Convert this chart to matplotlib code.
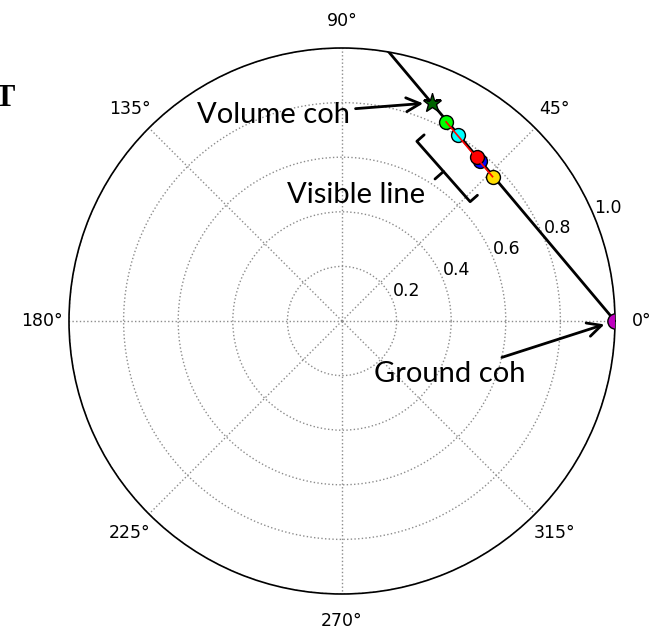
import matplotlib
matplotlib.use("Agg")
import matplotlib.pyplot as plt
import numpy as np

# coherence points (radius, angle in degrees)
names = ["volume", "green", "cyan", "blue", "red", "yellow", "ground"]
r_vals = [0.864, 0.823, 0.804, 0.775, 0.778, 0.764, 1.0]
theta_deg = [67.7, 62.4, 58.0, 49.3, 50.7, 43.8, 0.0]
colors = ["#006400", "#00ff00", "#00ffff", "#0000ff", "#ff0000", "#ffdd00", "#bf00bf"]
markers = ["*", "o", "o", "o", "o", "o", "o"]
msizes = [14, 10, 10, 10, 10, 10, 11]

theta = np.radians(theta_deg)
ground = r_vals[6] * np.exp(1j * theta[6])
volume = r_vals[0] * np.exp(1j * theta[0])

# line through ground and volume coherence, up to the unit circle
d = volume - ground
t = -2 * (ground.real * d.real + ground.imag * d.imag) / abs(d) ** 2
end = ground + t * d

fig = plt.figure(figsize=(6.52, 6.30), dpi=100)
ax = fig.add_axes([69 / 652, 36 / 630, 546 / 652, 546 / 630], projection="polar")

ax.plot([np.angle(ground), np.angle(end)], [abs(ground), abs(end)], "k-", lw=2, zorder=3)
for i in range(len(names)):
    ax.plot(theta[i], r_vals[i], marker=markers[i], color=colors[i], ms=msizes[i],
            mec="k", mew=1, ls="none", zorder=5)
ax.plot([theta[1], theta[5]], [r_vals[1], r_vals[5]], "r-", lw=1.2, zorder=6)

ax.set_ylim(0, 1.0)
ax.set_yticks([0.2, 0.4, 0.6, 0.8, 1.0])
ax.set_yticklabels(["0.2", "0.4", "0.6", "0.8", "1.0"])
ax.set_rlabel_position(22.5)
ax.set_thetagrids(np.arange(0, 360, 45))
ax.grid(True, color="0.55", ls=":", lw=1.0)
ax.tick_params(labelsize=12.5)
ax.tick_params(axis="x", pad=9)
ax.spines["polar"].set_linewidth(1.2)

lab = dict(fontsize=21, family="Lato", textcoords="figure pixels")
ax.annotate("Volume coh", xy=(theta[0], r_vals[0]), xytext=(350, 515), ha="right", va="center",
            arrowprops=dict(arrowstyle="->", lw=2, color="k", shrinkA=2, shrinkB=6,
                            mutation_scale=25), **lab)
ax.annotate("Ground coh", xy=(theta[6], r_vals[6]), xytext=(526, 256), ha="right", va="center",
            arrowprops=dict(arrowstyle="->", lw=2, color="k", shrinkA=2, shrinkB=8,
                            mutation_scale=25), **lab)
fig.text(356 / 652, 435 / 630, "Visible line", fontsize=21, family="Lato", ha="center", va="center")
ax.annotate("", xy=(443.5, 630 - 171.5), xytext=(435, 630 - 179), xycoords="figure pixels",
            textcoords="figure pixels",
            arrowprops=dict(arrowstyle="-[, widthB=2.9, lengthB=0.7", lw=2, color="k",
                            shrinkA=0, shrinkB=0, mutation_scale=10))

# edge of a neighbouring label, cut off by the crop in the reference
fig.text(15 / 652, 532 / 630, "T", fontsize=22, family="Liberation Serif", weight="bold",
         ha="right", va="center")

fig.savefig("out.png", dpi=100)
